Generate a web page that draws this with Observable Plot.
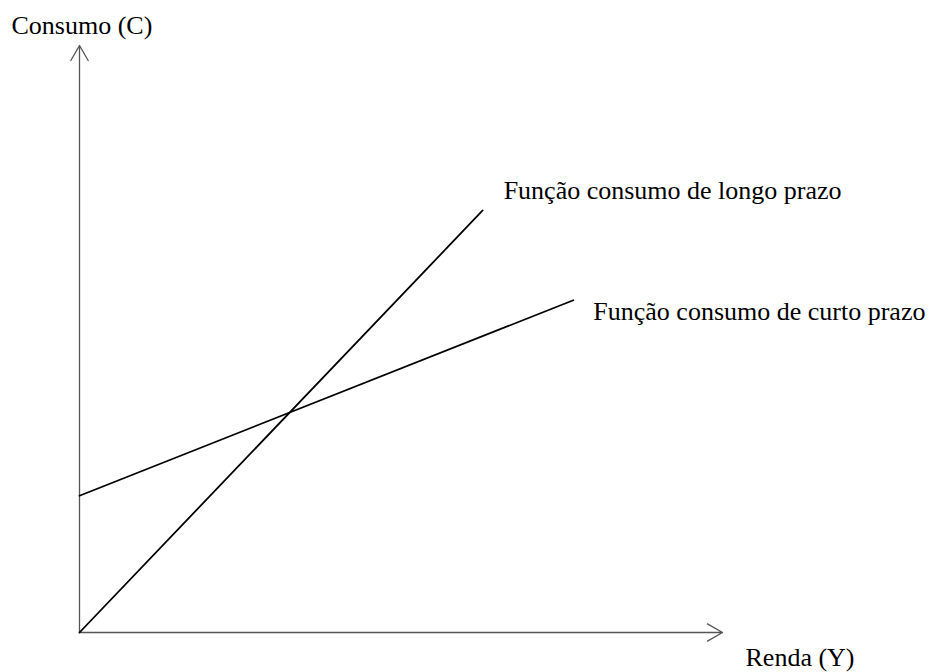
<!DOCTYPE html>
<html>
<head>
<meta charset="utf-8">
<script src="https://cdn.jsdelivr.net/npm/d3@7"></script>
<script src="https://cdn.jsdelivr.net/npm/@observablehq/plot@0.6"></script>
<style>
  html, body { margin: 0; padding: 0; background: #fff; }
  #chart svg { display: block; }
</style>
</head>
<body>
<div id="chart"></div>
<script>
// Renda (Y) and Consumo (C) in arbitrary units; axes run 0..100
const axisMax = 100;
const axisLabels = ["Renda (Y)", "Consumo (C)"];

// Long-run consumption function: passes through origin
const longRunY = [0, 62.7];
const longRunC = [0, 71.9];
// Short-run consumption function: positive intercept, flatter slope
const shortRunY = [0, 76.8];
const shortRunC = [23.3, 56.6];

const seriesNames = ["Função consumo de longo prazo", "Função consumo de curto prazo"];

const longRun = longRunY.map((y, i) => ({Y: y, C: longRunC[i]}));
const shortRun = shortRunY.map((y, i) => ({Y: y, C: shortRunC[i]}));

const axes = [
  {x1: 0, y1: 0, x2: axisMax, y2: 0},
  {x1: 0, y1: 0, x2: 0, y2: axisMax}
];

const font = "'Liberation Serif', 'Times New Roman', serif";

const chart = Plot.plot({
  width: 937,
  height: 672,
  marginLeft: 79,
  marginRight: 215,
  marginTop: 45,
  marginBottom: 40,
  x: {domain: [0, axisMax], axis: null},
  y: {domain: [0, axisMax], axis: null},
  style: {fontFamily: font, fontSize: "26px", background: "#fff", color: "#000", overflow: "visible"},
  marks: [
    Plot.arrow(axes, {
      x1: "x1", y1: "y1", x2: "x2", y2: "y2",
      stroke: "#555", strokeWidth: 1.3,
      headAngle: 60, headLength: 20
    }),
    Plot.line(longRun, {x: "Y", y: "C", stroke: "#000", strokeWidth: 1.8}),
    Plot.line(shortRun, {x: "Y", y: "C", stroke: "#000", strokeWidth: 1.8}),
    // series labels, placed just beyond each line's upper end
    Plot.text([longRun[longRun.length - 1]], {
      x: "Y", y: "C", text: () => seriesNames[0],
      textAnchor: "start", lineAnchor: "bottom", dx: 21, dy: -11,
      fill: "#000", fontSize: 26
    }),
    Plot.text([shortRun[shortRun.length - 1]], {
      x: "Y", y: "C", text: () => seriesNames[1],
      textAnchor: "start", lineAnchor: "bottom", dx: 20, dy: 20,
      fill: "#000", fontSize: 26
    }),
    // axis titles near the arrow tips
    Plot.text([{x: axisMax, y: 0}], {
      x: "x", y: "y", text: () => axisLabels[0],
      textAnchor: "start", lineAnchor: "bottom", dx: 23, dy: 33,
      fill: "#000", fontSize: 26
    }),
    Plot.text([{x: 0, y: axisMax}], {
      x: "x", y: "y", text: () => axisLabels[1],
      textAnchor: "start", lineAnchor: "bottom", dx: -68, dy: -12,
      fill: "#000", fontSize: 26
    })
  ]
});

document.getElementById("chart").appendChild(chart);
</script>
</body>
</html>
